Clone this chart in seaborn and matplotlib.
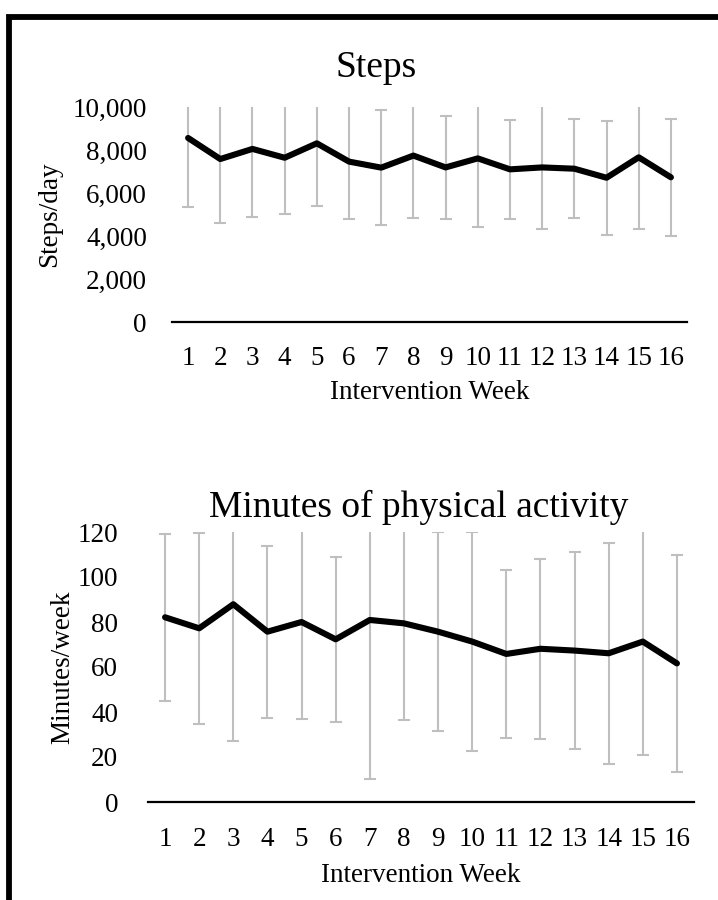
import matplotlib
matplotlib.use("Agg")
import matplotlib.pyplot as plt
from matplotlib.patches import Rectangle
from matplotlib.ticker import FuncFormatter
import seaborn as sns
import pandas as pd
import numpy as np

weeks = list(range(1, 17))
week_labels = [str(w) for w in weeks]

steps_mean = [8560, 7580, 8050, 7640, 8310, 7460, 7180, 7740,
              7190, 7610, 7100, 7190, 7130, 6710, 7660, 6730]
steps_sd = [3210, 2990, 3170, 2600, 2930, 2690, 2670, 2890,
            2400, 3180, 2300, 2860, 2310, 2660, 3320, 2720]

minutes_mean = [82.1, 77.2, 87.9, 75.7, 80.0, 72.3, 80.9, 79.4,
                75.7, 71.3, 65.8, 68.1, 67.3, 66.1, 71.3, 61.6]
minutes_sd = [37.0, 42.5, 60.6, 38.2, 43.1, 36.7, 70.5, 43.0,
              44.2, 48.5, 37.2, 40.0, 43.9, 49.0, 50.3, 48.2]

steps_yticks = [0, 2000, 4000, 6000, 8000, 10000]
minutes_yticks = [0, 20, 40, 60, 80, 100, 120]

sns.set_theme(style="white")
plt.rcParams["font.family"] = ["Liberation Serif", "DejaVu Serif"]

W, H = 718, 900
fig = plt.figure(figsize=(W / 100, H / 100), dpi=100)
fig.patch.set_facecolor("white")

ERR_COLOR = "#BFBFBF"
TICK_FS = 19.5
LABEL_FS = 19.5
TITLE_FS = 27


def panel(rect, mean, sd, yticks, ymax, ylabel, fmt, ypad, xpad,
          ylab_x, xlab_y):
    ax = fig.add_axes(rect)
    df = pd.DataFrame({"week": weeks, "mean": mean, "sd": sd})
    ax.errorbar(df["week"], df["mean"], yerr=df["sd"], fmt="none",
                ecolor=ERR_COLOR, elinewidth=1.5, capsize=4.5,
                capthick=1.5, zorder=1)
    sns.lineplot(data=df, x="week", y="mean", color="black",
                 linewidth=4.4, ax=ax, zorder=3,
                 solid_joinstyle="round", solid_capstyle="round")
    ax.set_xlim(0.5, 16.5)
    ax.set_ylim(0, ymax)
    ax.set_xticks(weeks)
    ax.set_xticklabels(week_labels)
    ax.set_yticks(yticks)
    ax.yaxis.set_major_formatter(FuncFormatter(fmt))
    for s in ["top", "right", "left"]:
        ax.spines[s].set_visible(False)
    ax.spines["bottom"].set_color("black")
    ax.spines["bottom"].set_linewidth(1.6)
    ax.tick_params(axis="both", length=0, labelsize=TICK_FS,
                   colors="black")
    ax.tick_params(axis="y", pad=ypad)
    ax.tick_params(axis="x", pad=xpad)
    ax.grid(False)
    ax.set_facecolor("none")
    ax.set_xlabel("Intervention Week", fontsize=LABEL_FS, color="black")
    ax.set_ylabel(ylabel, fontsize=LABEL_FS, color="black")
    ax.xaxis.set_label_coords(0.5, xlab_y)
    ax.yaxis.set_label_coords(ylab_x, 0.5)
    return ax


# top panel: plot area x 172..687, y 107..322 (pixels)
ax1 = panel([172 / W, 1 - 322 / H, 515 / W, 215 / H],
            steps_mean, steps_sd, steps_yticks, 10000, "Steps/day",
            lambda v, p: f"{int(v):,}", 18, 17, -0.2136, -0.270)
# bottom panel: plot area x 148..694, y 532..802
ax2 = panel([148 / W, 1 - 802 / H, 546 / W, 270 / H],
            minutes_mean, minutes_sd, minutes_yticks, 120, "Minutes/week",
            lambda v, p: f"{int(v)}", 21.4, 18, -0.1326, -0.2260)

fig.text(376 / W, 1 - 77 / H, "Steps", fontsize=TITLE_FS, ha="center",
         va="baseline", color="black")
fig.text(419 / W, 1 - 517 / H, "Minutes of physical activity",
         fontsize=TITLE_FS, ha="center", va="baseline", color="black")

# outer chart border (left and top edges visible, rest cropped)
fig.patches.append(Rectangle((9 / W, -0.2), 1.5, 1.2 - 17 / H,
                             transform=fig.transFigure, fill=False,
                             edgecolor="black", linewidth=4.2))

fig.savefig("out.png", dpi=100, facecolor="white")
